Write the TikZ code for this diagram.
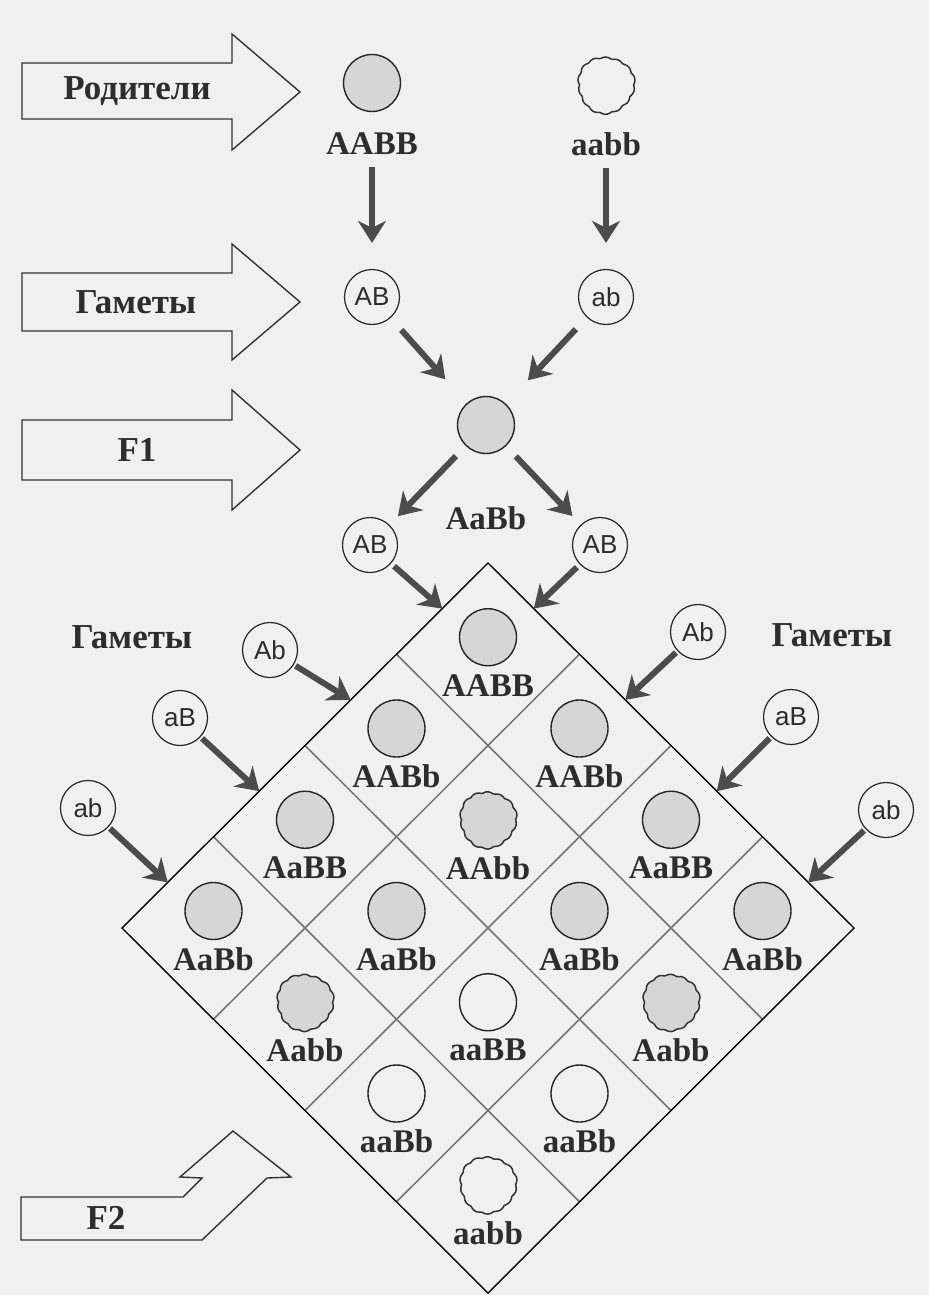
\documentclass[tikz,border=0pt]{standalone}
\usepackage{fontspec}
\setmainfont{Liberation Serif}
\newfontfamily\gfont{Liberation Sans}
\usetikzlibrary{arrows.meta}
\definecolor{bg}{RGB}{240,240,240}
\definecolor{seedgray}{RGB}{214,214,214}
\definecolor{ink}{RGB}{45,45,45}
\tikzset{
	big arrow/.style={draw=black!80,line width=1.4pt,line join=miter},
	tag/.style={font=\fontsize{35}{35}\selectfont\bfseries,text=ink,inner sep=0pt},
	geno/.style={font=\fontsize{33}{33}\selectfont\bfseries,text=ink,inner sep=0pt},
	seed/.style={circle,draw=black!85,line width=1.4pt,fill=seedgray,minimum size=57pt,inner sep=0pt},
	gamete/.style={circle,draw=black!85,line width=1.2pt,fill=bg,minimum size=55pt,inner sep=0pt,
		font=\gfont\fontsize{26}{26}\selectfont,text=ink},
	flow/.style={-{Stealth[length=22pt,width=28pt,inset=7pt]},line width=6pt,draw=black!70},
	cell/.style={draw=black!55,line width=1.5pt},
	frame/.style={draw=black,line width=1.4pt},
	wrinkle/.pic={\draw[draw=black!80,line width=1.5pt,fill=#1]
		plot[smooth cycle,samples=96,domain=0:356.25] (\x:{27pt+1.6pt*abs(sin(7*\x))+0.9pt*sin(3*\x+40)});}
}

\begin{document}
\begin{tikzpicture}[x=1pt,y=-1pt]
	\fill[bg] (0,0) rectangle (929,1295);
	\useasboundingbox (0,0) rectangle (929,1295);

	\draw[big arrow] (22,63) -- (232,63) -- (232,34) -- (300,92) -- (232,150) -- (232,119) -- (22,119) -- cycle;
	\draw[big arrow] (22,273) -- (232,273) -- (232,244) -- (300,302) -- (232,360) -- (232,331) -- (22,331) -- cycle;
	\draw[big arrow] (22,420) -- (232,420) -- (232,390) -- (300,450) -- (232,510) -- (232,480) -- (22,480) -- cycle;
	\draw[big arrow] (21,1240) -- (21,1197) -- (183,1197) -- (202,1178) -- (180,1177) -- (233,1131)
		-- (291,1177) -- (267,1178) -- (202,1240) -- cycle;
	\node[tag] (tParents) at (137,91) {Родители};
	\node[tag] (tGametes) at (136,302) {Гаметы};
	\node[tag] (tF1) at (137,450) {F1};
	\node[tag] (tF2) at (106,1218) {F2};
	\node[tag] (tLeft) at (132,637) {Гаметы};
	\node[tag] (tRight) at (832,635) {Гаметы};

	\node[seed] (pAA) at (372,83) {};
	\node[geno] (lAA) at (372,144) {AABB};
	\pic at (606,85) {wrinkle=bg};
	\node[geno] (laa) at (606,144) {aabb};
	\node[gamete] (gAB) at (372,297) {AB};
	\node[gamete] (gab) at (606,297) {ab};
	\node[seed] (f1) at (486,425) {};
	\node[geno] (lf1) at (486,518) {AaBb};

	\begin{scope}[shift={(488,563)},x={(-91.5pt,-91.25pt)},y={(91.5pt,-91.25pt)}]
		\draw[cell] (1,0) -- (1,4);
		\draw[cell] (2,0) -- (2,4);
		\draw[cell] (3,0) -- (3,4);
		\draw[cell] (0,1) -- (4,1);
		\draw[cell] (0,2) -- (4,2);
		\draw[cell] (0,3) -- (4,3);
		\draw[frame] (0,0) -- (4,0) -- (4,4) -- (0,4) -- cycle;
		\coordinate (L0) at (0.5,0);
		\coordinate (L1) at (1.5,0);
		\coordinate (L2) at (2.5,0);
		\coordinate (L3) at (3.5,0);
		\coordinate (R0) at (0,0.5);
		\coordinate (R1) at (0,1.5);
		\coordinate (R2) at (0,2.5);
		\coordinate (R3) at (0,3.5);

		\node[seed,yshift=17pt] (s00) at (0.5,0.5) {};
		\node[geno,yshift=-31pt] (g00) at (0.5,0.5) {AABB};
		\node[seed,yshift=17pt] (s10) at (1.5,0.5) {};
		\node[geno,yshift=-31pt] (g10) at (1.5,0.5) {AABb};
		\node[seed,yshift=17pt] (s01) at (0.5,1.5) {};
		\node[geno,yshift=-31pt] (g01) at (0.5,1.5) {AABb};
		\node[seed,yshift=17pt] (s20) at (2.5,0.5) {};
		\node[geno,yshift=-31pt] (g20) at (2.5,0.5) {AaBB};
		\pic[yshift=17pt] at (1.5,1.5) {wrinkle=seedgray};
		\node[geno,yshift=-31pt] (g11) at (1.5,1.5) {AAbb};
		\node[seed,yshift=17pt] (s02) at (0.5,2.5) {};
		\node[geno,yshift=-31pt] (g02) at (0.5,2.5) {AaBB};
		\node[seed,yshift=17pt] (s30) at (3.5,0.5) {};
		\node[geno,yshift=-31pt] (g30) at (3.5,0.5) {AaBb};
		\node[seed,yshift=17pt] (s21) at (2.5,1.5) {};
		\node[geno,yshift=-31pt] (g21) at (2.5,1.5) {AaBb};
		\node[seed,yshift=17pt] (s12) at (1.5,2.5) {};
		\node[geno,yshift=-31pt] (g12) at (1.5,2.5) {AaBb};
		\node[seed,yshift=17pt] (s03) at (0.5,3.5) {};
		\node[geno,yshift=-31pt] (g03) at (0.5,3.5) {AaBb};
		\pic[yshift=17pt] at (3.5,1.5) {wrinkle=seedgray};
		\node[geno,yshift=-31pt] (g31) at (3.5,1.5) {Aabb};
		\node[seed,fill=bg,yshift=17pt] (s22) at (2.5,2.5) {};
		\node[geno,yshift=-31pt] (g22) at (2.5,2.5) {aaBB};
		\pic[yshift=17pt] at (1.5,3.5) {wrinkle=seedgray};
		\node[geno,yshift=-31pt] (g13) at (1.5,3.5) {Aabb};
		\node[seed,fill=bg,yshift=17pt] (s32) at (3.5,2.5) {};
		\node[geno,yshift=-31pt] (g32) at (3.5,2.5) {aaBb};
		\node[seed,fill=bg,yshift=17pt] (s23) at (2.5,3.5) {};
		\node[geno,yshift=-31pt] (g23) at (2.5,3.5) {aaBb};
		\pic[yshift=17pt] at (3.5,3.5) {wrinkle=bg};
		\node[geno,yshift=-31pt] (g33) at (3.5,3.5) {aabb};
	\end{scope}

	\node[gamete] (gl0) at (370,545) {AB};
	\node[gamete] (gr0) at (600,545) {AB};
	\node[gamete] (gl1) at (270,650) {Ab};
	\node[gamete] (gr1) at (698,632) {Ab};
	\node[gamete] (gl2) at (180,718) {aB};
	\node[gamete] (gr2) at (791,717) {aB};
	\node[gamete] (gl3) at (88,808) {ab};
	\node[gamete] (gr3) at (886,810) {ab};

	\draw[flow,shorten <=12pt,shorten >=26pt] (lAA) -- (gAB);
	\draw[flow,shorten <=12pt,shorten >=26pt] (laa) -- (gab);
	\draw[flow,shorten <=16pt,shorten >=32pt] (gAB) -- (f1);
	\draw[flow,shorten <=16pt,shorten >=32pt] (gab) -- (f1);
	\draw[flow,shorten <=14pt,shorten >=12pt] (f1) -- (gl0);
	\draw[flow,shorten <=14pt,shorten >=12pt] (f1) -- (gr0);
	\draw[flow,shorten <=4pt] (gl0) -- (L0);
	\draw[flow,shorten <=4pt] (gr0) -- (R0);
	\draw[flow,shorten <=2pt] (gl1) -- (L1);
	\draw[flow,shorten <=2pt] (gr1) -- (R1);
	\draw[flow,shorten <=2pt] (gl2) -- (L2);
	\draw[flow,shorten <=2pt] (gr2) -- (R2);
	\draw[flow,shorten <=2pt] (gl3) -- (L3);
	\draw[flow,shorten <=2pt] (gr3) -- (R3);
\end{tikzpicture}
\end{document}
